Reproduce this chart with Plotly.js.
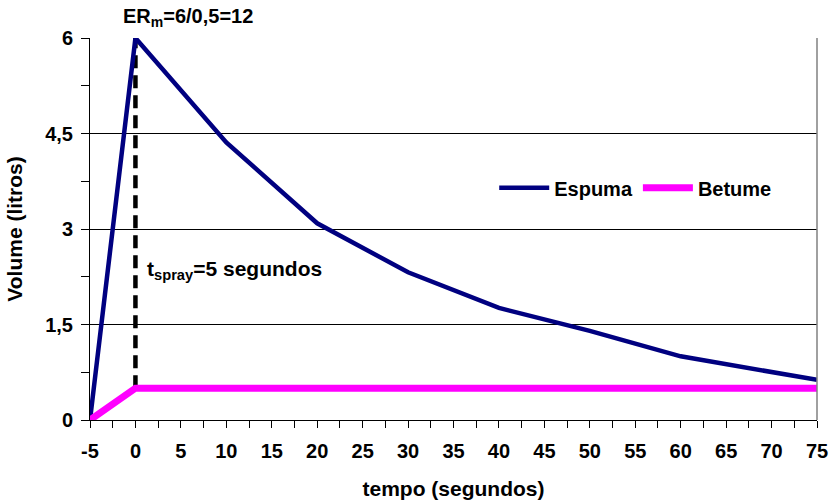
<!DOCTYPE html>
<html>
<head>
<meta charset="utf-8">
<script src="https://cdn.plot.ly/plotly-3.0.1.min.js"></script>
<style>html,body{margin:0;padding:0;background:#fff;}#chart{width:830px;height:504px;}</style>
</head>
<body>
<div id="chart"></div>
<script>
// Foam vs. bitumen volume over time
const tempoEspuma = [-5, 0, 10, 20, 30, 40, 50, 60, 75];
const volumeEspuma = [0, 6, 4.36, 3.09, 2.32, 1.76, 1.4, 1.0, 0.63];
const tempoBetume = [-5, 0, 75];
const volumeBetume = [0, 0.5, 0.5];
// spray end marker (t = 0), from bitumen level up to foam peak
const tempoSpray = [0, 0];
const volumeSpray = [0.5, 6];
const xTicks = [-5, 0, 5, 10, 15, 20, 25, 30, 35, 40, 45, 50, 55, 60, 65, 70, 75];
const yTicks = [0, 1.5, 3, 4.5, 6];
const yTickText = ['0', '1,5', '3', '4,5', '6'];

const font = 'Liberation Sans, Arial, sans-serif';

const traces = [
  {x: tempoSpray, y: volumeSpray, mode: 'lines', showlegend: false, hoverinfo: 'skip',
   line: {color: '#000', width: 4.5, dash: '13px,7px'}},
  {x: tempoEspuma, y: volumeEspuma, mode: 'lines', name: 'Espuma',
   line: {color: '#000080', width: 4.5}},
  {x: tempoBetume, y: volumeBetume, mode: 'lines', name: 'Betume',
   line: {color: '#ff00ff', width: 7}}
];

const layout = {
  width: 830, height: 504,
  margin: {l: 90, r: 13, t: 38, b: 84},
  paper_bgcolor: '#fff', plot_bgcolor: '#fff',
  separators: ', ',
  font: {family: font, color: '#000', size: 20},
  showlegend: true,
  legend: {orientation: 'h', x: 0.556, y: 0.608, xanchor: 'left', yanchor: 'middle',
           font: {family: font, size: 20, weight: 'bold'}, bgcolor: 'rgba(0,0,0,0)',
           itemwidth: 50, tracegroupgap: 0},
  xaxis: {
    range: [-5, 75], tickvals: xTicks, ticktext: xTicks.map(String),
    ticks: 'outside', ticklen: 7, tickwidth: 1, tickcolor: '#000',
    minor: {dtick: 2.5, ticks: 'outside', ticklen: 7, tickwidth: 1, tickcolor: '#000', showgrid: false},
    showline: true, linecolor: '#000', linewidth: 1, showgrid: false, zeroline: false,
    tickfont: {family: font, size: 20, weight: 'bold'},
    ticklabelstandoff: 6,
    title: {text: 'tempo (segundos)', font: {family: font, size: 21, weight: 'bold'}, standoff: 20}
  },
  yaxis: {
    range: [0, 6], tickvals: yTicks, ticktext: yTickText,
    ticks: 'outside', ticklen: 8, tickwidth: 1, tickcolor: '#000',
    minor: {dtick: 0.75, ticks: 'outside', ticklen: 8, tickwidth: 1, tickcolor: '#000', showgrid: false},
    showline: true, linecolor: '#000', linewidth: 1,
    showgrid: true, gridcolor: '#000', gridwidth: 1, zeroline: false,
    tickfont: {family: font, size: 20, weight: 'bold'},
    ticklabelstandoff: 4,
    title: {text: 'Volume (litros)', font: {family: font, size: 21, weight: 'bold'}, standoff: 16}
  },
  shapes: [
    {type: 'line', xref: 'paper', yref: 'paper', x0: 1, x1: 1, y0: 0, y1: 1,
     line: {color: '#808080', width: 1.5}}
  ],
  annotations: [
    {x: 0, y: 6, xref: 'x', yref: 'y', xanchor: 'left', yanchor: 'bottom', xshift: -14, yshift: 6,
     text: 'ER<sub>m</sub>=6/0,5=12', showarrow: false,
     font: {family: font, size: 20, weight: 'bold'}},
    {x: 0, y: 2.3, xref: 'x', yref: 'y', xanchor: 'left', yanchor: 'middle', xshift: 10, yshift: 4,
     text: 't<sub>spray</sub>=5 segundos', showarrow: false,
     font: {family: font, size: 21, weight: 'bold'}}
  ]
};

Plotly.newPlot('chart', traces, layout, {displayModeBar: false, staticPlot: true});
</script>
</body>
</html>
